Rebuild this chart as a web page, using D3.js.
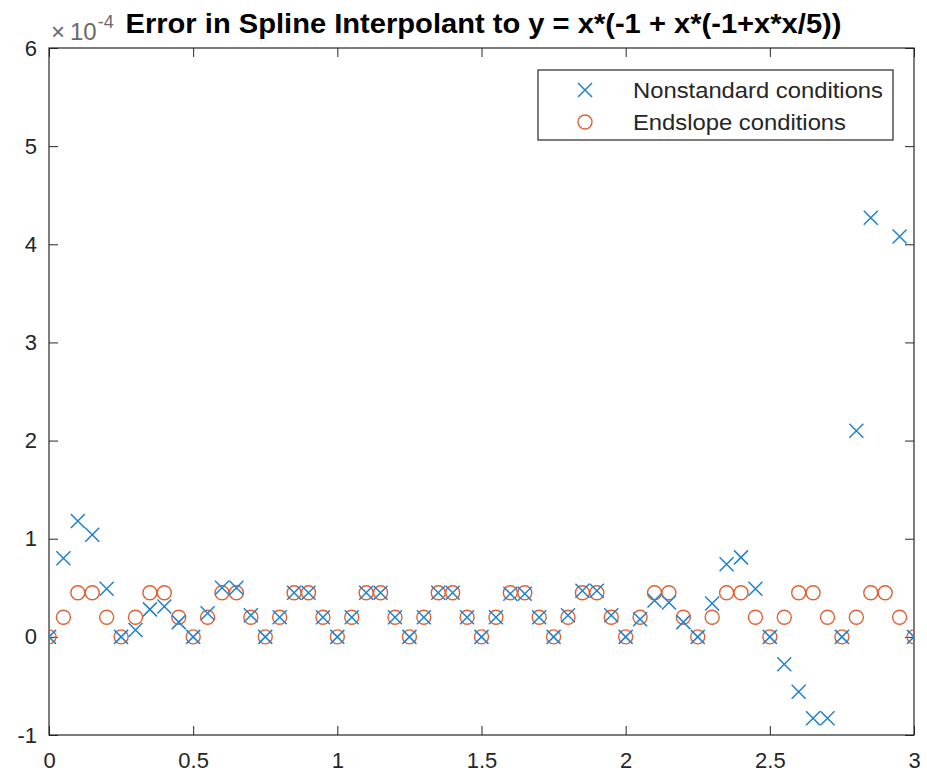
<!DOCTYPE html>
<html>
<head>
<meta charset="utf-8">
<script src="https://cdn.jsdelivr.net/npm/d3@7"></script>
<style>
html,body{margin:0;padding:0;background:#fff;}
svg{display:block;font-family:"Liberation Sans",Arial,Helvetica,sans-serif;}
</style>
</head>
<body>
<svg id="chart" width="927" height="776"></svg>
<script>
// ---- data (values in units of 1e-4) ----
const xValues = [0,0.05,0.1,0.15,0.2,0.25,0.3,0.35,0.4,0.45,0.5,0.55,0.6,0.65,0.7,0.75,0.8,0.85,0.9,0.95,
  1,1.05,1.1,1.15,1.2,1.25,1.3,1.35,1.4,1.45,1.5,1.55,1.6,1.65,1.7,1.75,1.8,1.85,1.9,1.95,
  2,2.05,2.1,2.15,2.2,2.25,2.3,2.35,2.4,2.45,2.5,2.55,2.6,2.65,2.7,2.75,2.8,2.85,2.9,2.95,3];
const nonstandard = [0,0.80,1.18,1.04,0.49,0,0.07,0.28,0.31,0.15,0,0.24,0.50,0.50,0.22,0,0.20,0.45,0.45,0.20,
  0,0.20,0.45,0.45,0.20,0,0.20,0.45,0.45,0.20,0,0.20,0.44,0.44,0.20,0,0.22,0.47,0.47,0.22,
  0,0.18,0.37,0.35,0.15,0,0.34,0.74,0.81,0.49,0,-0.28,-0.56,-0.83,-0.83,0,2.10,4.27,5.30,4.08,0];
const endslope = [0,0.2,0.45,0.45,0.2,0,0.2,0.45,0.45,0.2,0,0.2,0.45,0.45,0.2,0,0.2,0.45,0.45,0.2,
  0,0.2,0.45,0.45,0.2,0,0.2,0.45,0.45,0.2,0,0.2,0.45,0.45,0.2,0,0.2,0.45,0.45,0.2,
  0,0.2,0.45,0.45,0.2,0,0.2,0.45,0.45,0.2,0,0.2,0.45,0.45,0.2,0,0.2,0.45,0.45,0.2,0];
const xTicks = [0,0.5,1,1.5,2,2.5,3];
const xTickLabels = ["0","0.5","1","1.5","2","2.5","3"];
const yTicks = [-1,0,1,2,3,4,5,6];
const yTickLabels = ["-1","0","1","2","3","4","5","6"];
const seriesNames = ["Nonstandard conditions","Endslope conditions"];
const titleText = "Error in Spline Interpolant to y = x*(-1 + x*(-1+x*x/5))";

// ---- layout ----
const L = 49, R = 914, T = 48, B = 735;
const axisColor = "#262626";
const blue = "#1f82cf", orange = "#de6234";

const svg = d3.select("#chart");
const x = d3.scaleLinear().domain([0,3]).range([L,R]);
const y = d3.scaleLinear().domain([-1,6]).range([B,T]);

const clipId = "plotclip";
svg.append("defs").append("clipPath").attr("id",clipId)
  .append("rect").attr("x",L).attr("y",T).attr("width",R-L).attr("height",B-T);

// axes (box with inward ticks)
const tickLen = 9;
const gx = svg.append("g").attr("transform",`translate(0,${B})`)
  .call(d3.axisBottom(x).tickValues(xTicks).tickFormat((d,i)=>xTickLabels[i]).tickSizeInner(-tickLen).tickSizeOuter(0).tickPadding(17));
const gy = svg.append("g").attr("transform",`translate(${L},0)`)
  .call(d3.axisLeft(y).tickValues(yTicks).tickFormat((d,i)=>yTickLabels[i]).tickSizeInner(-tickLen).tickSizeOuter(0).tickPadding(12));
const gxt = svg.append("g").attr("transform",`translate(0,${T})`)
  .call(d3.axisTop(x).tickValues(xTicks).tickFormat("").tickSizeInner(-tickLen).tickSizeOuter(0));
const gyr = svg.append("g").attr("transform",`translate(${R},0)`)
  .call(d3.axisRight(y).tickValues(yTicks).tickFormat("").tickSizeInner(-tickLen).tickSizeOuter(0));
[gx,gy,gxt,gyr].forEach(g=>{
  g.select(".domain").remove();
  g.selectAll("line").attr("stroke",axisColor).attr("stroke-width",1);
  g.selectAll("text").attr("fill",axisColor).attr("font-size",22)
    .attr("font-family","'Liberation Sans',Arial,sans-serif");
});
gx.selectAll("text").attr("dy","0.71em");
svg.append("rect").attr("x",L).attr("y",T).attr("width",R-L).attr("height",B-T)
  .attr("fill","none").attr("stroke",axisColor).attr("stroke-width",1.2);

// data marks
const plot = svg.append("g").attr("clip-path",`url(#${clipId})`);
const rC = 7, rX = 7;
plot.selectAll("circle.es").data(xValues).join("circle").attr("class","es")
  .attr("cx",(d)=>x(d)).attr("cy",(d,i)=>y(endslope[i])).attr("r",rC)
  .attr("fill","none").attr("stroke",orange).attr("stroke-width",1.4);
const crossPath = (cx,cy)=>`M${cx-rX},${cy-rX}L${cx+rX},${cy+rX}M${cx-rX},${cy+rX}L${cx+rX},${cy-rX}`;
plot.selectAll("path.ns").data(xValues).join("path").attr("class","ns")
  .attr("d",(d,i)=>crossPath(x(d),y(nonstandard[i])))
  .attr("fill","none").attr("stroke",blue).attr("stroke-width",1.5);

// exponent label
const ex = svg.append("text").attr("x",L+2).attr("y",40).attr("fill","#6a6a6a").attr("font-size",24);
ex.append("tspan").text("\u00d7");
ex.append("tspan").attr("dx",5).text("10");
ex.append("tspan").attr("font-size",18).attr("dy",-12).attr("dx",1).text("-4");

// title
svg.append("text").attr("x",(L+R)/2 + 2).attr("y",33).attr("text-anchor","middle")
  .attr("font-size",27).attr("font-weight","bold").attr("fill","#000")
  .attr("textLength",716).attr("lengthAdjust","spacingAndGlyphs")
  .text(titleText);

// legend
const lg = svg.append("g");
lg.append("rect").attr("x",538).attr("y",70).attr("width",355).attr("height",70)
  .attr("fill","#fff").attr("stroke",axisColor).attr("stroke-width",1.2);
const rows = [90,122];
lg.append("path").attr("d",crossPath(585,rows[0])).attr("stroke",blue).attr("stroke-width",1.5).attr("fill","none");
lg.append("circle").attr("cx",585).attr("cy",rows[1]).attr("r",rC).attr("fill","none").attr("stroke",orange).attr("stroke-width",1.4);
const legendWidths = [250, 213];
seriesNames.forEach((n,i)=>{
  lg.append("text").attr("x",633).attr("y",rows[i]).attr("dy","0.35em")
    .attr("font-size",22).attr("fill",axisColor)
    .attr("textLength",legendWidths[i]).attr("lengthAdjust","spacingAndGlyphs").text(n);
});
</script>
</body>
</html>
